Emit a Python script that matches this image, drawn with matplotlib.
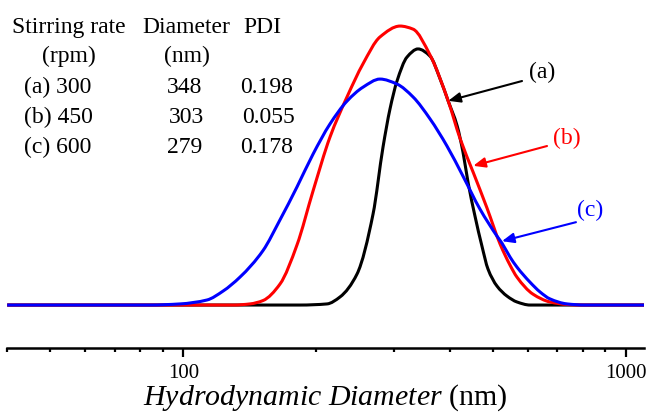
import matplotlib
matplotlib.use("Agg")
import numpy as np
import matplotlib.pyplot as plt
from matplotlib.ticker import FixedLocator, NullFormatter, FixedFormatter
from matplotlib.path import Path
from matplotlib.patches import PathPatch
from matplotlib.transforms import IdentityTransform

plt.rcParams['font.family'] = ['Liberation Serif', 'DejaVu Serif']
plt.rcParams['mathtext.fontset'] = 'custom'
plt.rcParams['mathtext.rm'] = 'Liberation Serif'
plt.rcParams['mathtext.it'] = 'Liberation Serif:italic'

# ---- data ----
d_a = [40, 183.6, 211.3, 226.1, 247.0, 268.5, 282.8, 293.3, 304.2, 320.5, 339.3,
       361.3, 380.8, 397.1, 416.0, 428.8, 440.1, 456.4, 473.3, 488.4, 511.8,
       539.3, 567.9, 607.7, 1100]
i_a = [0, 0, 0.4, 2.9, 11.1, 32.6, 56.6, 70.3, 80.3, 88.9, 91.8,
       89.2, 81.0, 73.1, 64.2, 54.8, 44.1, 31.9, 21.1, 12.9, 6.8,
       3.2, 1.1, 0, 0]

d_b = [40, 130, 141.5, 151.4, 165.4, 180.7, 196.5, 214.6, 234.5, 254.9, 278.4,
       309.0, 330.6, 361.3, 397.1, 422.1, 452.4, 485.8, 519.7, 547.8, 567.9,
       617.3, 674.4, 736.9, 800, 1100]
i_b = [0, 0, 0.4, 1.6, 7.5, 21.5, 40.9, 60.2, 74.6, 86.5, 96.1,
       100, 98.9, 89.6, 73.1, 59.8, 47.5, 34.8, 22.0, 14.3, 10.0,
       3.9, 1.1, 0.2, 0, 0]

d_c = [40, 84.1, 98.3, 113.1, 123.0, 134.3, 151.4, 165.4, 180.7, 196.5, 214.6,
       234.5, 254.9, 278.4, 304.2, 330.6, 361.3, 394.5, 428.8, 468.4, 511.8,
       525.2, 547.8, 567.9, 607.7, 640.2, 674.4, 736.9, 809.1, 1100]
i_c = [0, 0, 0.4, 1.8, 5.0, 10.0, 19.5, 30.5, 42.3, 54.1, 64.9,
       73.1, 78.1, 81.0, 79.2, 74.6, 66.7, 57.0, 46.2, 34.4, 24.7,
       22.2, 17.2, 13.6, 8.2, 4.7, 2.2, 0.4, 0, 0]

labels = ['(a)', '(b)', '(c)']
colors = ['black', 'red', 'blue']
tips = [(397.2, 73.2), (452.4, 49.9), (525.2, 22.9)]
tails = [(583, 80.3), (664, 57.0), (772, 29.7)]
label_pos = [(647, 83.9), (737, 59.9), (830, 34.1)]

table_rows = [
    ['Stirring rate', 'Diameter', 'PDI'],
    ['(rpm)', '(nm)', ''],
    ['(a) 300', '348', '0.198'],
    ['(b) 450', '303', '0.055'],
    ['(c) 600', '279', '0.178'],
]
col_x = [[12, 142, 243], [42, 164, 0], [24, 167, 240], [24, 169, 242], [24, 167, 240]]
row_y = [33, 62, 93, 123, 153]

major_ticks = [100, 1000]
minor_ticks = [40, 50, 60, 70, 80, 90, 200, 300, 400, 500, 600, 700, 800, 900]

# ---- figure ----
W, H = 650, 414
fig = plt.figure(figsize=(W / 100, H / 100), dpi=100)
ax = fig.add_axes([7.2 / W, 1 - 349 / H, (644 - 7.2) / W, 349 / H])
ax.set_xscale('log')
ax.set_xlim(40, 1100)
ax.set_ylim(-15.4, 109.7)


def smooth_curve(ax, xs, ys, color):
    """Draw a smooth monotone-cubic (PCHIP-style) curve through the data
    points, positioned with the axes' own data transform."""
    pts = ax.transData.transform(np.column_stack([xs, ys]))
    X, Y = pts[:, 0], pts[:, 1]
    h = np.diff(X)
    d = np.diff(Y) / h
    n = len(X)
    m = np.zeros(n)
    for k in range(1, n - 1):
        if d[k - 1] * d[k] <= 0:
            m[k] = 0.0
        else:
            w1 = 2 * h[k] + h[k - 1]
            w2 = h[k] + 2 * h[k - 1]
            m[k] = (w1 + w2) / (w1 / d[k - 1] + w2 / d[k])
    verts = [(X[0], Y[0])]
    codes = [Path.MOVETO]
    for i in range(n - 1):
        verts += [(X[i] + h[i] / 3, Y[i] + m[i] * h[i] / 3),
                  (X[i + 1] - h[i] / 3, Y[i + 1] - m[i + 1] * h[i] / 3),
                  (X[i + 1], Y[i + 1])]
        codes += [Path.CURVE4] * 3
    patch = PathPatch(Path(verts, codes), facecolor='none', edgecolor=color,
                      lw=2.2, transform=IdentityTransform(), capstyle='butt')
    patch.set_clip_box(ax.bbox)
    ax.add_artist(patch)


smooth_curve(ax, d_a, i_a, 'black')
smooth_curve(ax, d_b, i_b, 'red')
smooth_curve(ax, d_c, i_c, 'blue')

for s in ['top', 'left', 'right']:
    ax.spines[s].set_visible(False)
ax.spines['bottom'].set_linewidth(1.8)
ax.set_yticks([])

ax.xaxis.set_major_locator(FixedLocator(major_ticks))
ax.xaxis.set_major_formatter(FixedFormatter([str(t) for t in major_ticks]))
ax.xaxis.set_minor_locator(FixedLocator(minor_ticks))
ax.xaxis.set_minor_formatter(NullFormatter())
ax.tick_params(axis='x', which='major', length=6.5, width=1.6, labelsize=15, pad=4.3)
ax.tick_params(axis='x', which='minor', length=3.0, width=1.6)

ax.set_xlabel(r'$\mathit{Hydrodynamic\ Diameter}$ (nm)', fontsize=21.5, labelpad=-0.8)

for lab, c, tip, tail, lp in zip(labels, colors, tips, tails, label_pos):
    ax.annotate('', xy=tip, xytext=tail,
                arrowprops=dict(arrowstyle='-|>,head_length=0.6,head_width=0.25',
                                color=c, lw=1.5, shrinkA=0, shrinkB=0,
                                mutation_scale=12))
    ax.text(lp[0], lp[1], lab, color=c, fontsize=17, ha='center', va='center')

for r, (row, xs, y) in enumerate(zip(table_rows, col_x, row_y)):
    for txt, x in zip(row, xs):
        if txt:
            fig.text(x / W, 1 - y / H, txt, fontsize=17, ha='left', va='baseline')

fig.savefig('out.png', dpi=100)
